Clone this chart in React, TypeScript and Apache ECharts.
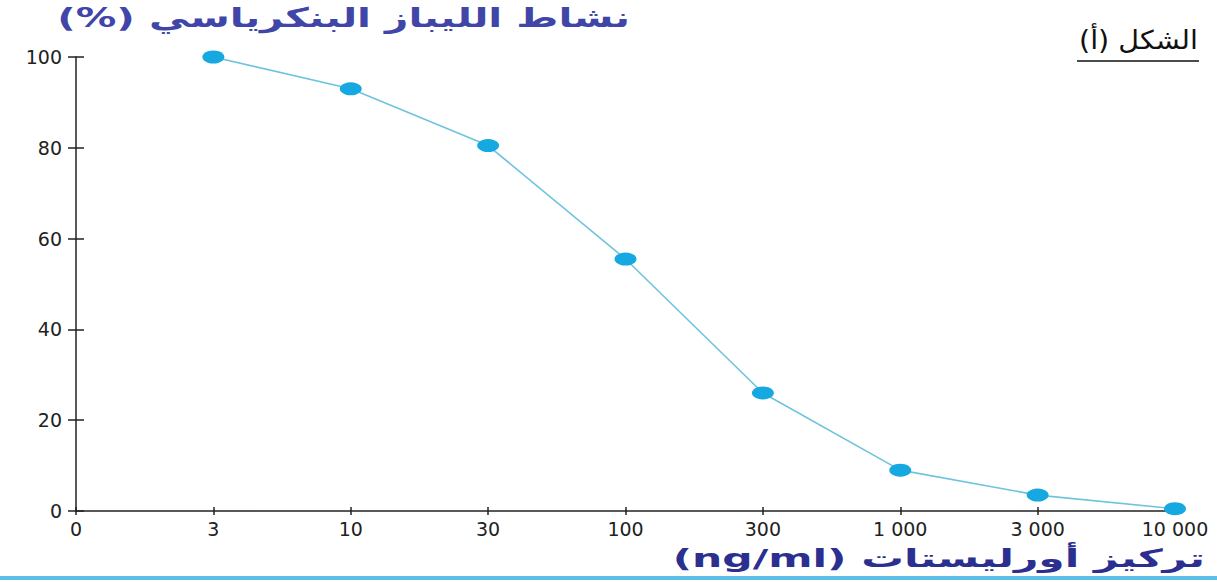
import React, { useEffect, useRef } from "react";
import * as echarts from "echarts";

const concentrations = ["0", "3", "10", "30", "100", "300", "1 000", "3 000", "10 000"];
const lipaseActivity: (number | null)[] = [null, 100, 93, 80.5, 55.5, 26, 9, 3.5, 0.5];
const yTicks = { min: 0, max: 100, interval: 20 };

const titleTop = "نشاط الليباز البنكرياسي (%)";
const titleBottom = "تركيز أورليستات (ng/ml)";
const figureLabel = "الشكل (أ)";

const RLE = "\u202B";
const PDF = "\u202C";

export default function App() {
  const ref = useRef<HTMLDivElement>(null);
  useEffect(() => {
    if (!ref.current) return;
    const chart = echarts.init(ref.current, null, { renderer: "svg" });
    const labelFont = { fontFamily: "DejaVu Sans", fontSize: 19, color: "#222" };
    chart.setOption({
      animation: false,
      backgroundColor: "#ffffff",
      grid: { left: 76, right: 42, top: 57, bottom: 72, containLabel: false },
      xAxis: [
        {
          type: "category",
          data: concentrations,
          boundaryGap: false,
          axisLine: { lineStyle: { color: "#222", width: 1.5 } },
          axisTick: { show: true, length: 4, lineStyle: { color: "#222", width: 1.5 } },
          axisLabel: { ...labelFont, margin: 8 },
          splitLine: { show: false },
        },
        {
          type: "category",
          data: concentrations,
          boundaryGap: false,
          position: "bottom",
          axisLine: { show: false },
          axisTick: { show: true, inside: true, length: 4, lineStyle: { color: "#222", width: 1.5 } },
          axisLabel: { show: false },
          splitLine: { show: false },
        },
      ],
      yAxis: [
        {
          type: "value",
          min: yTicks.min,
          max: yTicks.max,
          interval: yTicks.interval,
          axisLine: { show: true, lineStyle: { color: "#222", width: 1.5 } },
          axisTick: { show: true, length: 8, lineStyle: { color: "#222", width: 1.5 } },
          axisLabel: { ...labelFont, margin: 14 },
          splitLine: { show: false },
        },
        {
          type: "value",
          min: yTicks.min,
          max: yTicks.max,
          interval: yTicks.interval,
          position: "left",
          axisLine: { show: false },
          axisTick: { show: true, inside: true, length: 8, lineStyle: { color: "#222", width: 1.5 } },
          axisLabel: { show: false },
          splitLine: { show: false },
        },
      ],
      series: [
        {
          type: "line",
          data: lipaseActivity,
          connectNulls: false,
          symbol: "circle",
          symbolSize: [22, 13],
          itemStyle: { color: "#16a8e0" },
          lineStyle: { color: "#6fc3de", width: 1.6 },
          z: 5,
        },
      ],
      graphic: [
        {
          type: "text",
          x: 630,
          y: 18,
          scaleX: 1.5,
          style: {
            text: RLE + titleTop + PDF,
            fontFamily: "DejaVu Sans",
            fontWeight: "bold",
            fontSize: 27,
            fill: "#3f46a8",
            textAlign: "right",
            textVerticalAlign: "middle",
          },
        },
        {
          type: "text",
          x: 1198,
          y: 40,
          scaleX: 1.1,
          style: {
            text: RLE + figureLabel + PDF,
            fontFamily: "DejaVu Sans",
            fontSize: 26,
            fill: "#111",
            textAlign: "right",
            textVerticalAlign: "middle",
          },
        },
        {
          type: "line",
          shape: { x1: 1077, y1: 61, x2: 1199, y2: 61 },
          style: { stroke: "#111", lineWidth: 1.5 },
        },
        {
          type: "text",
          x: 1205,
          y: 558,
          scaleX: 1.7,
          style: {
            text: RLE + titleBottom + PDF,
            fontFamily: "DejaVu Sans",
            fontWeight: "bold",
            fontSize: 25,
            fill: "#2b2f8f",
            textAlign: "right",
            textVerticalAlign: "middle",
          },
        },
        {
          type: "rect",
          shape: { x: 0, y: 576, width: 1217, height: 4 },
          style: { fill: "#5cbde6" },
        },
      ],
    });
    return () => chart.dispose();
  }, []);
  return (
    <div
      ref={ref}
      style={{ position: "absolute", left: 0, top: 0, width: 1217, height: 583 }}
    />
  );
}
